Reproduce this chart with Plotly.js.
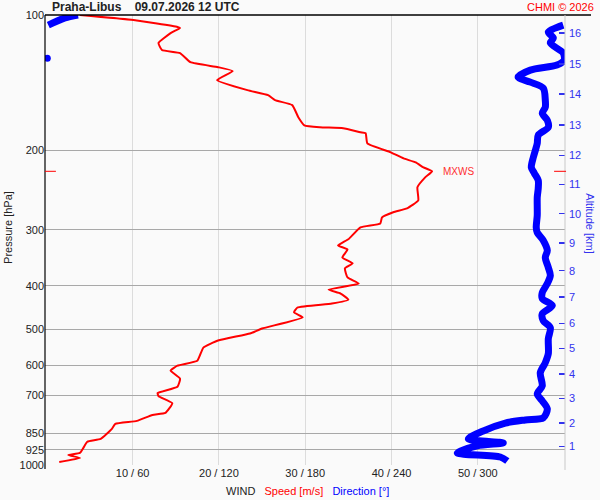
<!DOCTYPE html>
<html>
<head>
<meta charset="utf-8">
<script src="https://cdn.plot.ly/plotly-3.0.1.min.js"></script>
<style>html,body{margin:0;padding:0;background:#fafafa;}#chart{width:600px;height:500px;}</style>
</head>
<body>
<div id="chart"></div>
<script>
// Pressure levels (hPa) on the left axis
const pressureTicks = [100, 200, 300, 400, 500, 600, 700, 850, 925, 1000];
// Wind speed axis ticks (m/s) and their combined speed / direction labels
const speedTicks = [10, 20, 30, 40, 50];
const speedTickLabels = ['10 / 60', '20 / 120', '30 / 180', '40 / 240', '50 / 300'];
// Altitude axis (km) and the pressure level of each altitude
const altitudeKm = ['1','2','3','4','5','6','7','8','9','10','11','12','13','14','15','16'];
const altitudePressure = [910, 807, 710.8, 627.4, 550.3, 484.5, 423.3, 370, 321.3, 276.4, 238.2, 205, 175.4, 149.9, 128.6, 109.7];

// Wind speed profile
const speedPressure = [100, 102.6, 106.3, 106.9, 109.7, 115.4, 119.6, 121.5, 127.3, 130.6,
  133.2, 139.5, 146.9, 150.7, 154.6, 158.6, 168.7, 175.8, 177.6, 178.5, 182.2, 183.1, 192.9,
  201.9, 208.3, 212.6, 218.1, 222.5, 229.5, 241.4, 258.2, 268.9, 274.3, 281.6, 290.5, 296.4,
  315.1, 325.2, 331.9, 345.7, 356.4, 365.6, 383.1, 395.2, 407.7, 416.0, 429.1, 437.8, 446.7,
  458.0, 469.6, 497.5, 510.3, 529.0, 548.4, 586.5, 601.6, 617, 643, 670, 692, 703, 729, 766,
  774, 798, 810, 831, 875, 888, 916, 940, 950, 965, 985];
const speedValues = [3.9, 10.1, 15.2, 15.5, 14.4, 13.0, 13.4, 15.5, 16.7, 19.9,
  21.6, 19.8, 23.3, 25.7, 26.5, 28.5, 29.2, 29.9, 31.7, 34.4, 36.4, 37.0, 37.2,
  39.9, 41.4, 42.8, 43.7, 44.7, 43.9, 43.0, 43.1, 41.8, 40.2, 38.9, 38.7, 36.4,
  35.0, 33.8, 34.9, 34.3, 35.5, 34.6, 34.9, 36.2, 32.7, 34.1, 35.0, 33.1, 29.1,
  28.7, 29.7, 25.0, 23.6, 19.9, 18.2, 17.5, 15.2, 14.4, 15.5, 15.2, 12.9, 13.0, 14.6, 13.8,
  12.3, 10.5, 8.0, 7.6, 6.3, 4.75, 4.3, 3.9, 2.55, 3.9, 1.5];

// Wind direction profile (degrees); null marks the 360/0 wrap
const dirPressure = [100, 101.5, 105.3, null, 105.3, 109.1, 112.5, 115.4, 121.5, 126,
  129.2, 132.6, 137.4, 141, 145.4, 154.6, 160.3, 165.3, 171.3, 177.6,
  185.0, 192.9, 199.8, 207.1, 218.1, 224.8, 233.1, 242.8, 254.3, 267.7,
  278.9, 296.4, 304.3, 317.0, 333.5, 345.7, 364.1, 379.2, 395.2, 414.0,
  426.8, 442.3, 461.0, 477.9, 495.4, 524.2, 565.7, 592.6, 624.1, 667.1,
  695.0, 720.3, 750.3, 786, 794.1, 807, 840, 875, 893, 907, 940, 960, 980];
const dirValues = [22, 13, 1.4, null, 359.4, 349, 352.5, 350.4, 359.4, 360,
  355, 336.5, 328, 336.5, 345.5, 346.9, 346.9, 344.8, 348.3, 349.0,
  342.0, 341.3, 340.0, 338.6, 337.2, 339.3, 342.0, 342.0, 341.3, 341.3,
  341.3, 340.6, 341.3, 345.5, 348.3, 346.9, 349.0, 350.4, 348.3, 344.8,
  344.8, 351.8, 344.8, 345.5, 350.4, 349.0, 349.0, 346.9, 343.4, 344.8,
  341.3, 344.8, 348.3, 345.5, 333.0, 319.1, 303.8, 293.4, 317.7, 299.6, 285.7, 315.6, 320.5];
const dirWrapPressure = [124.7];
const dirWrapValues = [0.7];

const FONT = 'Arial, "Liberation Sans", sans-serif';
const BLUE = '#0000ff';
const LBLUE = '#3333ee';
const RED = '#ff0000';

// maximum wind
let iMax = 0;
speedValues.forEach((v, i) => { if (v > speedValues[iMax]) iMax = i; });
const mxP = speedPressure[iMax], mxS = speedValues[iMax];

const traces = [
  {x: dirValues, y: dirPressure, xaxis: 'x2', yaxis: 'y2', mode: 'lines', connectgaps: false,
   line: {color: BLUE, width: 7, shape: 'spline', smoothing: 0.8}, hoverinfo: 'skip'},
  {x: dirWrapValues, y: dirWrapPressure, xaxis: 'x2', yaxis: 'y2', mode: 'markers',
   marker: {color: BLUE, size: 7}, hoverinfo: 'skip'},
  {x: speedValues, y: speedPressure, mode: 'lines',
   line: {color: RED, width: 2, shape: 'spline', smoothing: 0.4}, hoverinfo: 'skip'}
];

const layout = {
  width: 600, height: 500,
  margin: {l: 45, r: 35, t: 15, b: 35},
  paper_bgcolor: '#fafafa', plot_bgcolor: '#fafafa',
  showlegend: false,
  font: {family: FONT, size: 11, color: '#222'},
  xaxis: {range: [-0.15, 60.1], tickvals: speedTicks, ticktext: speedTickLabels,
    showgrid: true, gridcolor: '#dcdcdc', gridwidth: 1, zeroline: false, showline: false,
    ticks: '', tickfont: {size: 11, color: '#222'}, fixedrange: true},
  xaxis2: {range: [-0.9, 360.6], overlaying: 'x', visible: false},
  yaxis: {type: 'log', range: [3, 2], autorange: false, tickvals: pressureTicks,
    ticktext: pressureTicks.map(String), showgrid: true, gridcolor: '#a8a8a8', gridwidth: 1,
    zeroline: false, showline: false, ticks: '', tickfont: {size: 11, color: '#222'}},
  yaxis2: {type: 'log', range: [3, 2], autorange: false, overlaying: 'y', side: 'right',
    tickvals: altitudePressure, ticktext: altitudeKm, showgrid: false, zeroline: false,
    ticks: 'inside', ticklen: 6, tickwidth: 1.5, tickcolor: LBLUE, showline: false,
    ticklabelstandoff: 3, tickfont: {size: 11, color: LBLUE}},
  shapes: [
    {type: 'line', xref: 'paper', yref: 'paper', x0: 0, x1: 1.05, y0: 1, y1: 1,
     line: {color: '#000', width: 1.5}},
    {type: 'line', xref: 'paper', yref: 'paper', x0: 0, x1: 0, y0: -0.009, y1: 1,
     line: {color: '#000', width: 1.2}},
    {type: 'line', xref: 'paper', yref: 'paper', x0: 1, x1: 1, y0: -0.011, y1: 1,
     line: {color: '#c8c8c8', width: 1}},
    {type: 'line', xref: 'paper', yref: 'y', x0: 0, x1: 0.021, y0: mxP, y1: mxP,
     line: {color: RED, width: 1}},
    {type: 'line', xref: 'paper', yref: 'y', x0: 0.979, x1: 1.002, y0: mxP, y1: mxP,
     line: {color: RED, width: 1}}
  ],
  annotations: [
    {xref: 'paper', yref: 'paper', x: 0.0096, y: 1.018, xanchor: 'left', yanchor: 'middle',
     showarrow: false, text: '<b>Praha-Libus&nbsp;&nbsp;&nbsp;&nbsp;09.07.2026 12 UTC</b>',
     font: {size: 12, color: '#222'}},
    {xref: 'paper', yref: 'paper', x: 1.0596, y: 1.018, xanchor: 'right', yanchor: 'middle',
     showarrow: false, text: 'CHMI © 2026', font: {size: 11, color: RED}},
    {xref: 'x', yref: 'y', x: mxS, y: Math.log10(mxP), xanchor: 'left', yanchor: 'middle',
     xshift: 9, showarrow: false, text: 'MXWS', font: {size: 10, color: '#ff3030'}},
    {xref: 'paper', yref: 'paper', x: 0.504, y: -0.0578, xanchor: 'center', yanchor: 'middle',
     showarrow: false,
     text: 'WIND&nbsp;&nbsp;&nbsp;<span style="color:#ff0000">Speed [m/s]</span>&nbsp;&nbsp;&nbsp;<span style="color:#0000ff">Direction [°]</span>',
     font: {size: 11, color: '#222'}},
    {xref: 'paper', yref: 'paper', x: -0.071, y: 0.527, xanchor: 'center', yanchor: 'middle',
     textangle: -90, showarrow: false, text: 'Pressure [hPa]', font: {size: 11, color: '#222'}},
    {xref: 'paper', yref: 'paper', x: 1.048, y: 0.535, xanchor: 'center', yanchor: 'middle',
     textangle: 90, showarrow: false, text: 'Altitude [km]', font: {size: 11, color: LBLUE}}
  ]
};

Plotly.newPlot('chart', traces, layout, {staticPlot: true, displayModeBar: false});
</script>
</body>
</html>
